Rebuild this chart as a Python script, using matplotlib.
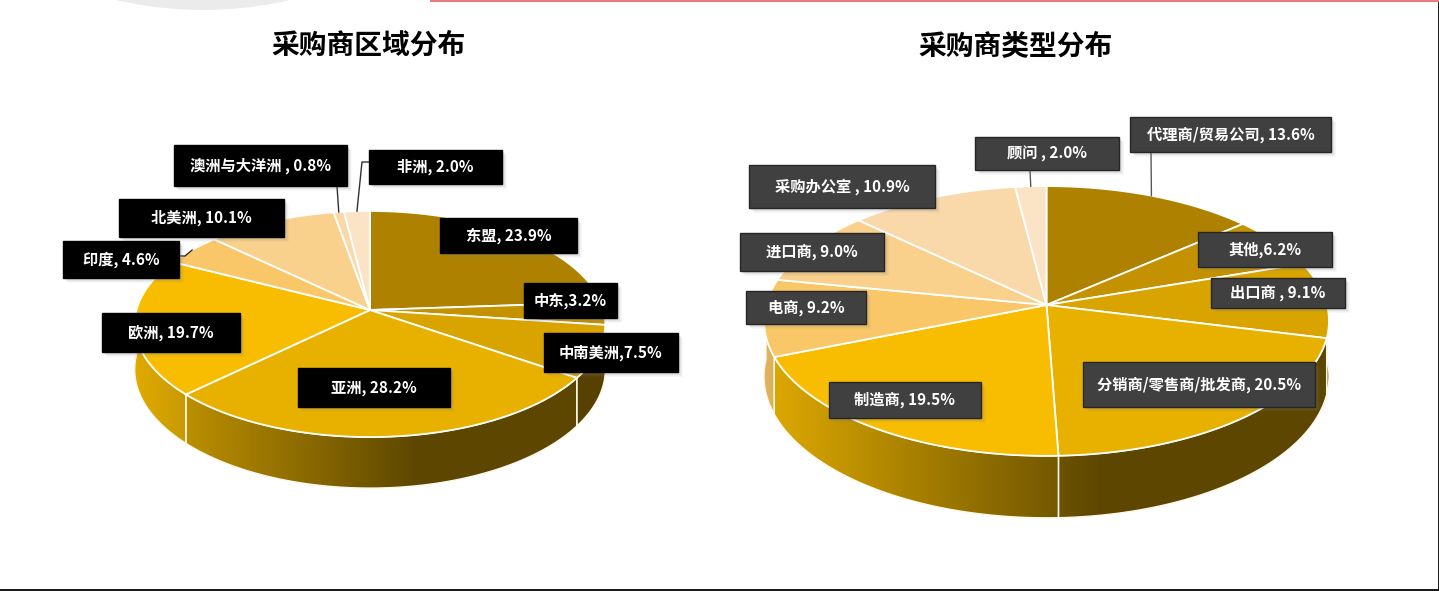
import numpy as np
import matplotlib
matplotlib.use("Agg")
import matplotlib.pyplot as plt
from matplotlib.patches import Polygon, Rectangle, Ellipse
from matplotlib.colors import to_rgb

plt.rcParams['font.family'] = ['Noto Sans CJK SC', 'DejaVu Sans']

W, H = 1439, 591

# --- data ---
region_names = ['东盟', '中东', '中南美洲', '亚洲', '欧洲', '印度', '北美洲', '澳洲与大洋洲', '非洲']
region_seps = [', ', ',', ',', ', ', ', ', ', ', ', ', ' , ', ', ']
region_values = [23.9, 3.2, 7.5, 28.2, 19.7, 4.6, 10.1, 0.8, 2.0]

type_names = ['代理商/贸易公司', '其他', '出口商', '分销商/零售商/批发商', '制造商',
              '电商', '进口商', '采购办公室', '顾问']
type_seps = [', ', ',', ' , ', ', ', ', ', ', ', ', ', ' , ', ' , ']
type_values = [13.6, 6.2, 9.1, 20.5, 19.5, 9.2, 9.0, 10.9, 2.0]

palette = ['#AE8200', '#C49100', '#D9A300', '#E8B100', '#F8BD00',
           '#F9C768', '#F9D08C', '#F9D9A9', '#FBE3C6']

# --- layout (pixels) ---
left_pie = dict(cx=370, cy=310, A=233.5, B=111.3, k=0.124, D=44.7)
right_pie = dict(cx=1046.5, cy=305, A=280.5, B=133, k=0.1185, D=54.6)

left_boxes = [(440, 218, 577, 253), (524, 283, 617, 318), (544, 333, 678, 372),
              (298, 368, 450, 407), (102, 313, 240, 352), (63, 241, 179, 278),
              (119, 199, 284, 237), (174, 145, 347, 186), (369, 150, 502, 184)]
right_boxes = [(1130, 117, 1331, 152), (1198, 232, 1332, 267), (1211, 278, 1345, 308),
               (1083, 362, 1315, 407), (829, 382, 981, 418), (746, 291, 866, 324),
               (740, 233, 884, 271), (749, 165, 935, 208), (975, 137, 1119, 170)]

# leader lines: slice index -> points on the box side (rim end computed)
left_leaders = {7: [(337, 186)], 8: [(369, 162), (362, 162)], 5: [(179, 256), (185, 256)]}
right_leaders = {0: [(1151, 152)], 8: [(1030, 170)]}


def proj(p, X, Y, z=0.0):
    s = 1.0 / (1.0 + p['k'] * Y)
    return p['cx'] + p['A'] * X * s, p['cy'] - p['B'] * Y * s + z * p['D'] * s


def slice_angles(values):
    frac = np.array(values) / sum(values)
    cum = np.concatenate([[0], np.cumsum(frac)])
    return 90 - 360 * cum[1:], 90 - 360 * cum[:-1]


def arc(t1, t2):
    n = max(int(abs(t2 - t1) / 1.0) + 2, 2)
    t = np.radians(np.linspace(t1, t2, n))
    return np.cos(t), np.sin(t)


def draw_pie(ax, p, values, colors):
    t_lo, t_hi = slice_angles(values)
    x0, x1 = p['cx'] - p['A'] * 1.01, p['cx'] + p['A'] * 1.01
    gx = np.linspace(-1, 1, 300)
    shade = 0.4 + 0.5 * np.clip((0.2 - gx) / 1.2, 0, 1)
    # side walls (front half only)
    for i in range(len(values)):
        lo, hi = max(t_lo[i], -180), min(t_hi[i], 0)
        if hi <= lo:
            continue
        X, Y = arc(lo, hi)
        tu, tv = proj(p, X, Y, 0)
        bu, bv = proj(p, X, Y, 1)
        verts = np.column_stack([np.r_[tu, bu[::-1]], np.r_[tv, bv[::-1]]])
        poly = Polygon(verts, closed=True, fc='none', ec='#FFF8E8', lw=1.0, zorder=3)
        ax.add_patch(poly)
        rgb = np.array(to_rgb(colors[i]))
        img = (shade[:, None] * rgb[None, :])[None, :, :]
        im = ax.imshow(img, extent=(x0, x1, p['cy'] + 2 * p['B'] + p['D'], p['cy'] - 2 * p['B']),
                       aspect='auto', interpolation='bilinear', zorder=2)
        im.set_clip_path(poly)
    # top faces
    for i in range(len(values)):
        X, Y = arc(t_lo[i], t_hi[i])
        u, v = proj(p, X, Y, 0)
        verts = np.column_stack([np.r_[p['cx'], u], np.r_[p['cy'], v]])
        ax.add_patch(Polygon(verts, closed=True, fc=colors[i], ec='white', lw=1.3,
                             joinstyle='round', zorder=4))
    return t_lo, t_hi


def draw_labels(ax, p, names, seps, values, boxes, leaders, t_lo, t_hi, fc, ec, lcolor):
    for i, (name, sep, val) in enumerate(zip(names, seps, values)):
        bx0, by0, bx1, by1 = boxes[i]
        for off, a in [(2, 0.10), (3, 0.10), (4, 0.08), (5, 0.05)]:
            ax.add_patch(Rectangle((bx0 + off, by0 + off), bx1 - bx0, by1 - by0,
                                   fc='#808080', ec='none', alpha=a, zorder=6))
        ax.add_patch(Rectangle((bx0, by0), bx1 - bx0, by1 - by0, fc=fc, ec=ec, lw=1, zorder=7))
        ax.text((bx0 + bx1) / 2, (by0 + by1) / 2, f'{name}{sep}{val:.1f}%',
                ha='center', va='center', color='white', fontsize=11, fontweight='bold', zorder=8)
    for i, pts in leaders.items():
        mid = np.radians((t_lo[i] + t_hi[i]) / 2)
        u, v = proj(p, np.cos(mid), np.sin(mid), 0)
        xs = [q[0] for q in pts] + [u]
        ys = [q[1] for q in pts] + [v]
        ax.plot(xs, ys, color=lcolor, lw=1, zorder=5)


fig = plt.figure(figsize=(W / 100, H / 100), dpi=100)
ax = fig.add_axes([0, 0, 1, 1])
ax.axis('off')

# page decorations
ax.add_patch(Ellipse((203, -373), 766, 766, fc='#EBEBEB', ec='none', zorder=0))
ax.add_patch(Rectangle((430, -1), W - 430, 2.5, fc='#EC7A7A', ec='none', zorder=1))
ax.add_patch(Rectangle((0, 588.5), W, 3, fc='#1A1A1A', ec='none', zorder=1))
ax.add_patch(Rectangle((1437.5, 2), 2, H, fc='#1A1A1A', ec='none', zorder=1))

lt = draw_pie(ax, left_pie, region_values, palette)
rt = draw_pie(ax, right_pie, type_values, palette)

draw_labels(ax, left_pie, region_names, region_seps, region_values, left_boxes,
            left_leaders, *lt, fc='#000000', ec='#000000', lcolor='#303030')
draw_labels(ax, right_pie, type_names, type_seps, type_values, right_boxes,
            right_leaders, *rt, fc='#404040', ec='#262626', lcolor='#595959')

ax.text(369, 46, '采购商区域分布', ha='center', va='center', fontsize=20, fontweight='bold', color='black')
ax.text(1016, 46, '采购商类型分布', ha='center', va='center', fontsize=20, fontweight='bold', color='black')

ax.set_xlim(0, W)
ax.set_ylim(H, 0)
ax.set_aspect('auto')

fig.savefig('out.png', dpi=100)
